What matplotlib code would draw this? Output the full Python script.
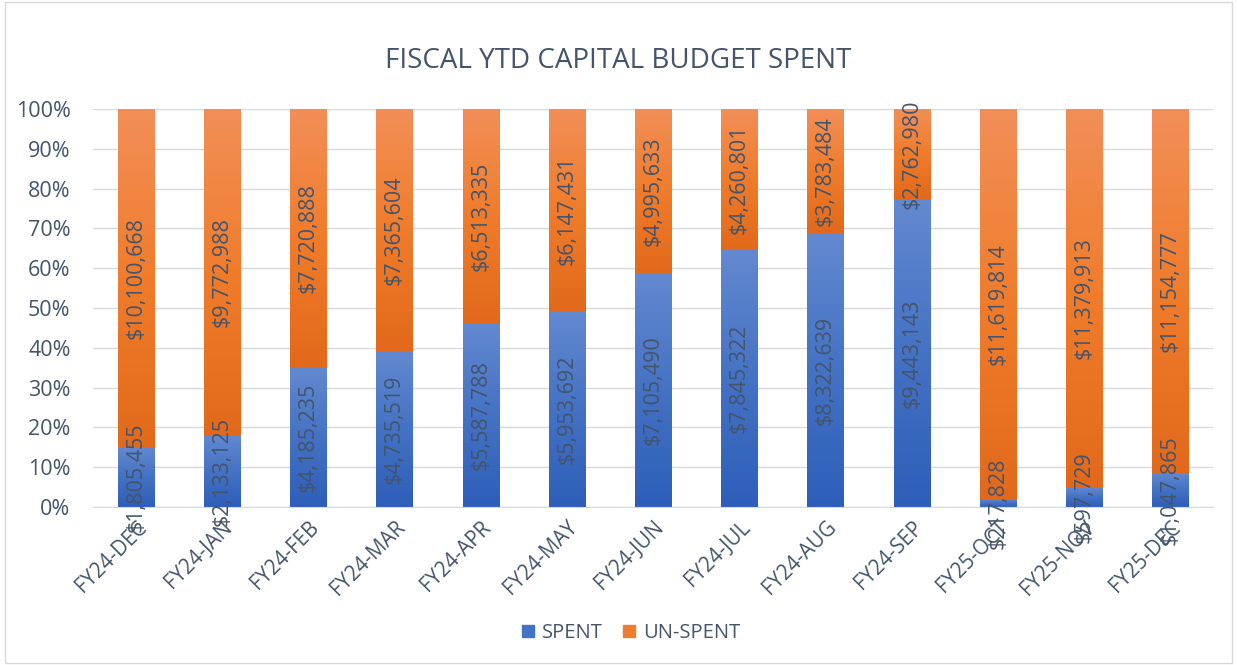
import matplotlib.pyplot as plt
import numpy as np
from matplotlib.patches import Rectangle, Patch
from matplotlib.colors import LinearSegmentedColormap

plt.rcParams['font.family'] = ['Open Sans', 'DejaVu Sans']

# data
months = ['FY24-DEC', 'FY24-JAN', 'FY24-FEB', 'FY24-MAR', 'FY24-APR', 'FY24-MAY',
          'FY24-JUN', 'FY24-JUL', 'FY24-AUG', 'FY24-SEP', 'FY25-OCT', 'FY25-NOV', 'FY25-DEC']
spent = [1805455, 2133125, 4185235, 4735519, 5587788, 5953692, 7105490,
         7845322, 8322639, 9443143, 217828, 597729, 1047865]
unspent = [10100668, 9772988, 7720888, 7365604, 6513335, 6147431, 4995633,
           4260801, 3783484, 2762980, 11619814, 11379913, 11154777]

text_col = '#44546A'
blue_cmap = LinearSegmentedColormap.from_list('b', ['#2E5EB9', '#4472C4', '#6389D0'])
orange_cmap = LinearSegmentedColormap.from_list('o', ['#E2691B', '#F07C2B', '#F28F58'])

spent = np.array(spent, dtype=float)
unspent = np.array(unspent, dtype=float)
total = spent + unspent
p_spent = spent / total * 100
p_unspent = unspent / total * 100
x = np.arange(len(months))

fig = plt.figure(figsize=(12.37, 6.65), dpi=100)
ax = fig.add_axes([0.075, 0.2376, 0.906, 0.5985])

bars1 = ax.bar(x, p_spent, width=0.42, color='#4472C4', zorder=2)
bars2 = ax.bar(x, p_unspent, width=0.42, bottom=p_spent, color='#ED7D31', zorder=2)

# gradient fill clipped to each bar
grad = np.linspace(0, 1, 256).reshape(-1, 1)
for bars, cmap in [(bars1, blue_cmap), (bars2, orange_cmap)]:
    for b in bars:
        bx, by = b.get_x(), b.get_y()
        w, h = b.get_width(), b.get_height()
        if h <= 0:
            continue
        b.set_facecolor('none')
        im = ax.imshow(grad, cmap=cmap, origin='lower', aspect='auto',
                       extent=[bx, bx + w, by, by + h], zorder=2)
        im.set_clip_path(b)

# data labels
for i in range(len(months)):
    ax.text(x[i], p_spent[i] / 2, '${:,.0f}'.format(spent[i]), rotation=90,
            ha='center', va='center', fontsize=15.5, color=text_col, zorder=4)
    ax.text(x[i], p_spent[i] + p_unspent[i] / 2, '${:,.0f}'.format(unspent[i]),
            rotation=90, ha='center', va='center', fontsize=15.5, color=text_col, zorder=4)

ax.set_xlim(-0.5, len(months) - 0.5)
ax.set_ylim(0, 100)
ax.set_yticks(range(0, 101, 10))
ax.set_yticklabels(['{}%'.format(v) for v in range(0, 101, 10)])
ax.set_xticks(x)
ax.set_xticklabels(months, rotation=45, ha='right', rotation_mode='anchor')
ax.tick_params(length=0, labelsize=15.5, colors=text_col)
ax.tick_params(axis='x', labelsize=14.8, pad=7)
ax.tick_params(axis='y', pad=16)
ax.grid(axis='y', color='#D9D9D9', linewidth=1, zorder=0)
ax.set_axisbelow(True)
for s in ['top', 'right', 'left']:
    ax.spines[s].set_visible(False)
ax.spines['bottom'].set_color('#D9D9D9')

fig.suptitle('FISCAL YTD CAPITAL BUDGET SPENT', y=0.93, fontsize=20, color=text_col)

handles = [Patch(color='#4472C4', label='SPENT'), Patch(color='#ED7D31', label='UN-SPENT')]
fig.legend(handles=handles, loc='center', bbox_to_anchor=(0.51, 0.048), ncol=2,
           frameon=False, fontsize=14.5, labelcolor=text_col, handlelength=0.6,
           handleheight=0.6, columnspacing=1.0, handletextpad=0.4)

fig.patches.append(Rectangle((0.004, 0.003), 0.992, 0.994, transform=fig.transFigure,
                             fill=False, edgecolor='#D9D9D9', linewidth=1))

fig.savefig('out.png', dpi=100)
